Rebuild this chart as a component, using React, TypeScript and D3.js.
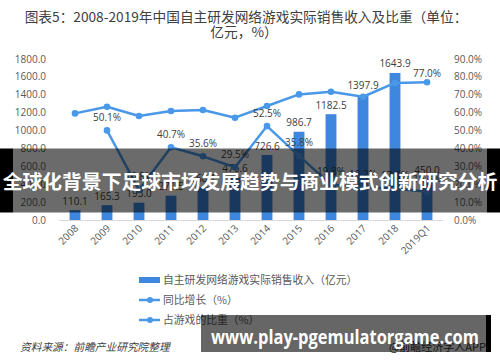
import React from "react";
import * as d3 from "d3";

const categories = ["2008", "2009", "2010", "2011", "2012", "2013", "2014", "2015", "2016", "2017", "2018", "2019Q1"];
const revenue = [110.1, 165.3, 193.0, 271.5, 368.1, 476.6, 726.6, 986.7, 1182.5, 1397.9, 1643.9, 450.0];
const growth = [null, 50.1, 16.8, 40.7, 35.6, 29.5, 52.5, 35.8, 19.8, 18.2, 17.6, 15.8];
const share = [59.6, 63.3, 58.1, 60.9, 61.5, 57.2, 63.7, 70.2, 71.7, 68.9, 76.6, 77.0];
const shareLabelIndex = [11];
const leftTicks = [0, 200, 400, 600, 800, 1000, 1200, 1400, 1600, 1800];
const rightTicks = [0, 10, 20, 30, 40, 50, 60, 70, 80, 90];

const title1 = "图表5：2008-2019年中国自主研发网络游戏实际销售收入及比重（单位：";
const title2 = "亿元，%）";
const legendLabels = ["自主研发网络游戏实际销售收入（亿元）", "同比增长（%）", "占游戏的比重（%）"];
const sourceText = "资料来源：前瞻产业研究院整理";
const bannerText = "全球化背景下足球市场发展趋势与商业模式创新研究分析";
const siteText = "www.play-pgemulatorgame.com";
const appText = "@前瞻经济学人APP";

const BAR = "#3d87df";
const LINE = "#4a98e8";
const NUMF = "'Open Sans', 'Noto Sans CJK SC', sans-serif";
const CJK = "'Noto Sans CJK SC', sans-serif";

export default function App() {
  const W = 500, H = 362;
  const x = d3.scaleBand<string>().domain(categories).range([59, 443]).paddingInner(0.66).paddingOuter(0.33);
  const yL = d3.scaleLinear().domain([0, 1800]).range([220, 59]);
  const yR = d3.scaleLinear().domain([0, 90]).range([220, 59]);
  const cx = (c: string) => (x(c) as number) + x.bandwidth() / 2;

  const growthPts = categories.map((c, i) => ({ c, v: growth[i] })).filter((d) => d.v !== null) as { c: string; v: number }[];
  const sharePts = categories.map((c, i) => ({ c, v: share[i] }));
  const line = d3.line<{ c: string; v: number }>().x((d) => cx(d.c)).y((d) => yR(d.v));

  return (
    <svg width={W} height={H} style={{ position: "absolute", left: 0, top: 0, background: "#fff" }}>
      <rect x={0} y={0} width={W} height={H} fill="#fff" />
      <text x={246} y={22} textAnchor="middle" fontFamily={CJK} fontSize={13.7} fill="#404040">{title1}</text>
      <text x={244} y={37} textAnchor="middle" fontFamily={CJK} fontSize={13.7} fill="#404040">{title2}</text>

      {leftTicks.map((t) => (
        <text key={"l" + t} x={46} y={yL(t)} dy="0.35em" textAnchor="end" fontFamily={NUMF} fontSize={10} fill="#595959">{t.toFixed(1)}</text>
      ))}
      {rightTicks.map((t) => (
        <text key={"r" + t} x={454} y={yR(t)} dy="0.35em" textAnchor="start" fontFamily={NUMF} fontSize={10} fill="#595959">{t.toFixed(1) + "%"}</text>
      ))}

      <line x1={59} x2={443} y1={220.5} y2={220.5} stroke="#d9d9d9" strokeWidth={1} />
      {categories.map((c) => (
        <text key={"x" + c} transform={`translate(${cx(c) + 4},${229}) rotate(-45)`} textAnchor="end" fontFamily={NUMF} fontSize={10} fill="#595959">{c}</text>
      ))}

      {categories.map((c, i) => (
        <rect key={"b" + c} x={x(c)} y={yL(revenue[i])} width={x.bandwidth()} height={yL(0) - yL(revenue[i])} fill={BAR} />
      ))}
      {categories.map((c, i) => (
        <text key={"bl" + c} x={cx(c)} y={yL(revenue[i]) - 9} dy="0.35em" textAnchor="middle" fontFamily={NUMF} fontSize={10} fill="#404040">{revenue[i].toFixed(1)}</text>
      ))}

      <path d={line(sharePts) || ""} fill="none" stroke={LINE} strokeWidth={2.5} strokeLinejoin="round" />
      {sharePts.map((d) => (
        <circle key={"sp" + d.c} cx={cx(d.c)} cy={yR(d.v)} r={3.3} fill={LINE} />
      ))}
      {shareLabelIndex.map((i) => (
        <text key={"sl" + i} x={cx(categories[i])} y={yR(share[i]) - 9} dy="0.35em" textAnchor="middle" fontFamily={NUMF} fontSize={10} fill="#404040">{share[i].toFixed(1) + "%"}</text>
      ))}

      <path d={line(growthPts) || ""} fill="none" stroke={LINE} strokeWidth={2.5} strokeLinejoin="round" />
      {growthPts.map((d) => (
        <circle key={"gp" + d.c} cx={cx(d.c)} cy={yR(d.v)} r={3.3} fill={LINE} />
      ))}
      {growthPts.map((d) => (
        <text key={"gl" + d.c} x={cx(d.c)} y={yR(d.v) - 13} dy="0.35em" textAnchor="middle" fontFamily={NUMF} fontSize={10} fill="#404040">{d.v.toFixed(1) + "%"}</text>
      ))}

      {/* legend */}
      <rect x={139} y={277} width={21} height={6} fill={BAR} />
      <text x={163} y={280} dy="0.35em" fontFamily={CJK} fontSize={10.8} fill="#595959">{legendLabels[0]}</text>
      <line x1={139} x2={160} y1={300} y2={300} stroke={LINE} strokeWidth={2.5} />
      <circle cx={150} cy={300} r={3} fill={LINE} />
      <text x={163} y={300} dy="0.35em" fontFamily={CJK} fontSize={10.8} fill="#595959">{legendLabels[1]}</text>
      <line x1={139} x2={160} y1={320} y2={320} stroke={LINE} strokeWidth={2.5} />
      <circle cx={150} cy={320} r={3} fill={LINE} />
      <text x={163} y={320} dy="0.35em" fontFamily={CJK} fontSize={10.8} fill="#595959">{legendLabels[2]}</text>

      <text x={20} y={347} dy="0.35em" fontFamily={CJK} fontSize={10.7} fontStyle="italic" fill="#404040">{sourceText}</text>
      <text x={486} y={347} dy="0.35em" textAnchor="end" fontFamily={CJK} fontSize={11} fill="#333">{appText}</text>

      {/* overlay band */}
      <rect x={0} y={148.5} width={13} height={64} fill="#000" />
      <rect x={487} y={148.5} width={13} height={64} fill="#000" />
      <rect x={13} y={148.5} width={474} height={64} fill="rgba(0,0,0,0.58)" />
      <text x={250} y={182} dy="0.35em" textAnchor="middle" fontFamily={CJK} fontWeight="bold" fontSize={19.8} fill="#fff">{bannerText}</text>

      {/* bottom banner */}
      <rect x={486} y={315} width={5} height={37} fill="#000" />
      <rect x={201} y={315} width={285} height={37} fill="rgba(0,0,0,0.6)" />
      <text x={211} y={337} dy="0.35em" textLength={268} lengthAdjust="spacingAndGlyphs" fontFamily="'Open Sans', 'DejaVu Sans', sans-serif" fontWeight="bold" fontSize={20} fill="#fff">{siteText}</text>
    </svg>
  );
}
